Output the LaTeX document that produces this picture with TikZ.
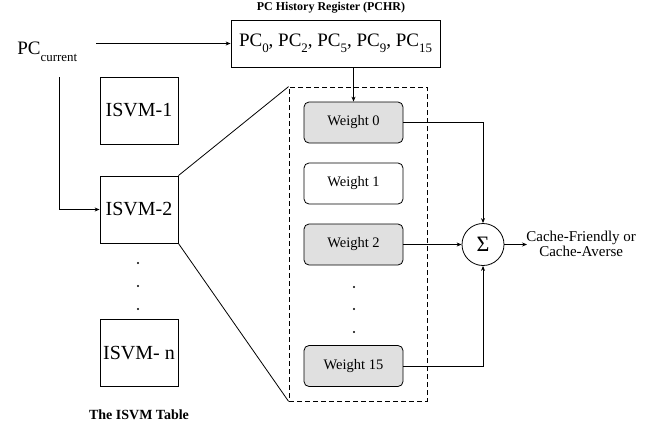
\documentclass[tikz,border=0pt]{standalone}
\usepackage{fontspec}
\setmainfont{Liberation Serif}
\usetikzlibrary{arrows.meta}
\newcommand{\fs}[1]{\fontsize{#1}{#1}\selectfont}
\newcommand{\sbs}[1]{\raisebox{-0.33em}{\scalebox{0.68}{#1}}}
\begin{document}
\begin{tikzpicture}[x=1pt,y=-1pt,
  line width=0.8pt,
  arr/.style={-{Stealth[length=5pt,width=4pt]}},
  isvmbox/.style={draw,minimum width=78pt,minimum height=67pt,inner sep=0pt,font=\fs{20}},
  wbox/.style={draw,rounded corners=5pt,minimum width=99pt,minimum height=41pt,inner sep=0pt,font=\fs{14.5}},
  wfill/.style={wbox,fill=black!12},
  dotn/.style={circle,fill,inner sep=0pt,minimum size=2.4pt},
  ttl/.style={font=\bfseries\fs{12}}
]
\useasboundingbox (0,0) rectangle (660,428);
% PC current and PCHR
\node[font=\fs{19},anchor=base west,inner sep=0pt] (pcc) at (17,55) {PC\sbs{current}};
\node[draw,minimum width=209pt,minimum height=47pt,inner sep=0pt,font=\fs{19}] (pchr) at (335.5,43.5)
  {PC\sbs{0}, PC\sbs{2}, PC\sbs{5}, PC\sbs{9}, PC\sbs{15}};
\node[ttl] (pchrt) at (331,8) {PC History Register (PCHR)};
\coordinate (pcs) at (96,43.5);
\coordinate (pcd) at (59,77);
\draw[arr] (pcs) -- (pchr.west);
% ISVM table
\node[isvmbox] (isvm1) at (139,110.5) {ISVM-1};
\node[isvmbox] (isvm2) at (139,209.5) {ISVM-2};
\node[isvmbox] (isvmn) at (139,353) {ISVM- n};
\node[dotn] (d1) at (138,263) {};
\node[dotn] (d2) at (138,286) {};
\node[dotn] (d3) at (138,309) {};
\node[font=\bfseries\fs{14}] (tt) at (139,415) {The ISVM Table};
\draw[arr] (pcd) |- (isvm2.west);
% dashed expansion
\node[draw,dash pattern=on 5pt off 3pt,minimum width=138pt,minimum height=314pt,inner sep=0pt] (dbox) at (358,244) {};
\draw (isvm2.north east) -- (dbox.north west);
\draw (isvm2.south east) -- (dbox.south west);
% weights
\node[wfill] (w0) at (353.5,122.5) {Weight 0};
\node[wbox] (w1) at (353.5,183.5) {Weight 1};
\node[wfill] (w2) at (353.5,244.5) {Weight 2};
\node[wfill] (w15) at (353.5,366) {Weight 15};
\node[dotn] (e1) at (354,287) {};
\node[dotn] (e2) at (354,309) {};
\node[dotn] (e3) at (354,332) {};
\draw[arr] (w0.north |- pchr.south) -- (w0.north);
% sum
\node[draw,circle,minimum size=42pt,inner sep=0pt,font=\fs{22}] (sig) at (483,244.5) {Σ};
\draw[arr] (w0.east) -| (sig.north);
\draw[arr] (w2.east) -- (sig.west);
\draw[arr] (w15.east) -| (sig.south);
\coordinate (outc) at (527,244.5);
\draw[arr] (sig.east) -- (outc);
\node[font=\fs{15},align=center,anchor=west,inner sep=0pt] (out) at (526,244) {Cache-Friendly or\\Cache-Averse};
\end{tikzpicture}
\end{document}
